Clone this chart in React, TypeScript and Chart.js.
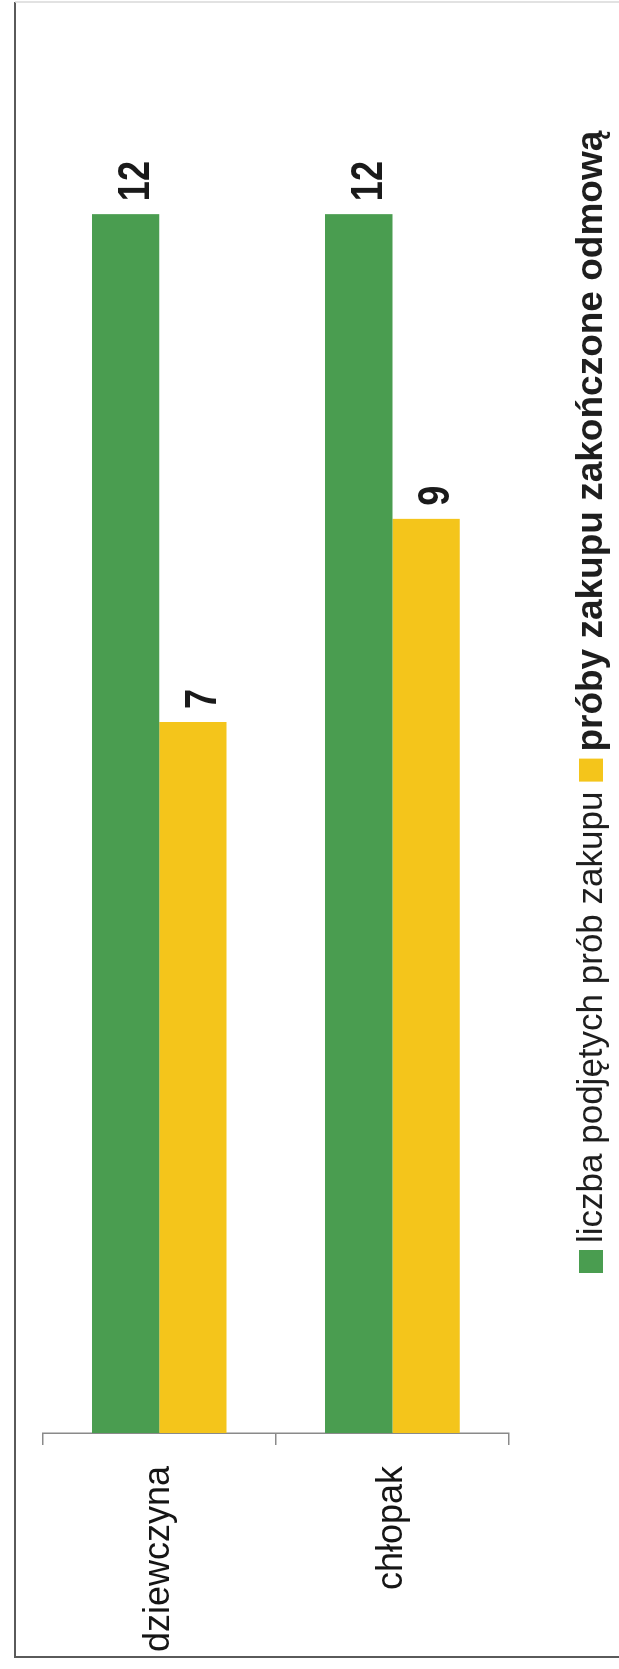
import { useEffect, useRef } from 'react';
import { Chart, registerables } from 'chart.js';

Chart.register(...registerables);

// Categories and series values
const categories = ['dziewczyna', 'chłopak'];
const seriesNames = ['liczba podjętych prób zakupu', 'próby zakupu zakończone odmową'];
const attempts = [12, 12];
const refusals = [7, 9];
const seriesColors = ['#4a9d50', '#f4c51b'];
const valueAxisMax = 14;

// Canvas is laid out landscape and turned a quarter-turn counter-clockwise on the page
const CANVAS_W = 1669;
const CANVAS_H = 619;

const FONT_FAMILY = '"Liberation Sans", Arial, "DejaVu Sans", sans-serif';

const framePlugin = {
  id: 'frame',
  beforeDraw(chart: any) {
    const { ctx, width, height } = chart;
    ctx.save();
    ctx.fillStyle = '#ffffff';
    ctx.fillRect(0, 0, width, height);
    ctx.strokeStyle = '#5a5a5a';
    ctx.lineWidth = 2;
    ctx.beginPath();
    ctx.moveTo(12, height + 5);
    ctx.lineTo(12, 15);
    ctx.lineTo(width - 2, 15);
    ctx.stroke();
    ctx.strokeStyle = '#d8d8d8';
    ctx.lineWidth = 1.5;
    ctx.beginPath();
    ctx.moveTo(width - 2, 15);
    ctx.lineTo(width - 2, height + 5);
    ctx.stroke();
    ctx.restore();
  },
};

const valueLabelPlugin = {
  id: 'valueLabels',
  afterDatasetsDraw(chart: any) {
    const ctx = chart.ctx;
    chart.data.datasets.forEach((ds: any, di: number) => {
      const meta = chart.getDatasetMeta(di);
      meta.data.forEach((bar: any, i: number) => {
        const v = ds.data[i];
        ctx.save();
        ctx.translate(bar.x + 13, bar.y + 11);
        ctx.scale(0.82, 1);
        ctx.font = `bold 44px ${FONT_FAMILY}`;
        ctx.textAlign = 'left';
        ctx.textBaseline = 'middle';
        ctx.fillStyle = '#1a1a1a';
        ctx.fillText(String(v), 0, 0);
        ctx.restore();
      });
    });
  },
};

// Legend entries: the second one is set in bold
const legendFonts = [`35px ${FONT_FAMILY}`, `bold 37px ${FONT_FAMILY}`];

const legendPlugin = {
  id: 'sideLegend',
  afterDraw(chart: any) {
    const { ctx, chartArea } = chart;
    const datasets = chart.data.datasets;
    const boxW = 23;
    const boxH = 24;
    const textGap = 7;
    const itemGap = 10;
    const centerY = 591;
    ctx.save();
    let x = chartArea.left + 160;
    datasets.forEach((d: any, i: number) => {
      ctx.fillStyle = d.backgroundColor;
      ctx.fillRect(x, centerY - boxH / 2, boxW, boxH);
      x += boxW + textGap;
      ctx.font = legendFonts[i];
      ctx.fillStyle = '#1e1e1e';
      ctx.textAlign = 'left';
      ctx.textBaseline = 'middle';
      ctx.fillText(d.label, x, centerY + 1);
      x += ctx.measureText(d.label).width + itemGap;
    });
    ctx.restore();
  },
};

export default function App() {
  const canvasRef = useRef<HTMLCanvasElement | null>(null);

  useEffect(() => {
    const canvas = canvasRef.current;
    if (!canvas) return;
    const chart = new Chart(canvas, {
      type: 'bar',
      data: {
        labels: categories,
        datasets: [
          { label: seriesNames[0], data: attempts, backgroundColor: seriesColors[0] },
          { label: seriesNames[1], data: refusals, backgroundColor: seriesColors[1] },
        ],
      },
      options: {
        indexAxis: 'y',
        responsive: false,
        animation: false,
        devicePixelRatio: 1,
        layout: { padding: { left: 12, right: 11, top: 41, bottom: 110 } },
        datasets: { bar: { categoryPercentage: 0.577, barPercentage: 1 } },
        scales: {
          x: { display: false, min: 0, max: valueAxisMax },
          y: {
            grid: {
              display: true,
              drawOnChartArea: false,
              drawTicks: true,
              tickLength: 12,
              color: '#8a8a8a',
              lineWidth: 1.5,
              offset: true,
            },
            border: { display: true, color: '#8a8a8a', width: 1.5 },
            ticks: {
              font: { family: FONT_FAMILY, size: 36 },
              color: '#151515',
              padding: 21,
            },
            afterFit: (scale: any) => {
              scale.width = 224;
            },
          },
        },
        plugins: { legend: { display: false }, tooltip: { enabled: false } },
      },
      plugins: [framePlugin, valueLabelPlugin, legendPlugin],
    } as any);
    return () => chart.destroy();
  }, []);

  return (
    <div style={{ position: 'absolute', left: 0, top: 0, width: 619, height: 1669, overflow: 'hidden', background: '#fff' }}>
      <div
        style={{
          position: 'absolute',
          left: 0,
          top: 0,
          width: CANVAS_W,
          height: CANVAS_H,
          transformOrigin: '0 0',
          transform: `translateY(${CANVAS_W}px) rotate(-90deg)`,
        }}
      >
        <canvas ref={canvasRef} width={CANVAS_W} height={CANVAS_H} style={{ display: 'block' }} />
      </div>
    </div>
  );
}
